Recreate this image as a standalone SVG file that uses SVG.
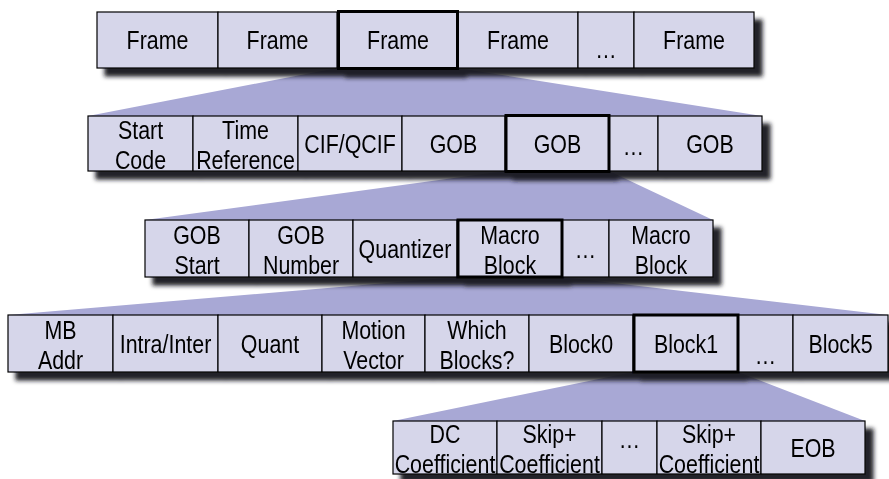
<svg xmlns="http://www.w3.org/2000/svg" width="889" height="479" viewBox="0 0 889 479">
  <style>
    .cell { fill: #d6d6ea; stroke: #000; stroke-width: 1.2; }
    .sel { fill: none; stroke: #000; stroke-width: 3; }
    .fan { fill: #a8a8d5; stroke: none; }
    text { font-family: "Liberation Sans", Arial, sans-serif; font-size: 25.5px; fill: #000; text-anchor: middle; }
  </style>
  <defs>
    <filter id="shadow" x="-5%" y="-30%" width="115%" height="170%">
      <feDropShadow dx="8" dy="8" stdDeviation="2.2" flood-color="#15151d" flood-opacity="0.95"/>
    </filter>
  </defs>
  <rect width="889" height="479" fill="#fff"/>

  <!-- expansion wedges: each selected field opens into the row below -->
  <g id="connectors">
    <polygon class="fan" points="337,68 458,68 762,116 88,116"/>
    <polygon class="fan" points="505,171 609,171 713,220 145,220"/>
    <polygon class="fan" points="457,277 562,277 888,315 8,315"/>
    <polygon class="fan" points="633,372 738,372 865,421 393,421"/>
  </g>

  <!-- Row 1: video sequence -->
  <g id="sequence" filter="url(#shadow)">
    <g id="frame1"><rect class="cell" x="97" y="12" width="121" height="56"/><text transform="translate(157.5,49) scale(0.84,1)">Frame</text></g>
    <g id="frame2"><rect class="cell" x="218" y="12" width="119" height="56"/><text transform="translate(277.5,49) scale(0.84,1)">Frame</text></g>
    <g id="frame4"><rect class="cell" x="458" y="12" width="120" height="56"/><text transform="translate(518,49) scale(0.84,1)">Frame</text></g>
    <g id="frame-more"><rect class="cell" x="578" y="12" width="56" height="56"/><text transform="translate(606,58) scale(0.84,1)">…</text></g>
    <g id="frame-last"><rect class="cell" x="634" y="12" width="120" height="56"/><text transform="translate(694,49) scale(0.84,1)">Frame</text></g>
    <g id="frame3"><rect class="cell" x="338.5" y="11.5" width="119" height="57"/><rect class="sel" x="338.5" y="11.5" width="119" height="57"/><text transform="translate(398,49) scale(0.84,1)">Frame</text></g>
  </g>

  <!-- Row 2: frame layer -->
  <g id="frame" filter="url(#shadow)">
    <g id="start-code"><rect class="cell" x="88" y="116" width="105" height="55"/><text transform="translate(140.5,139) scale(0.84,1)"><tspan x="0">Start</tspan><tspan x="0" dy="30">Code</tspan></text></g>
    <g id="time-reference"><rect class="cell" x="193" y="116" width="105" height="55"/><text transform="translate(245.5,139) scale(0.84,1)"><tspan x="0">Time</tspan><tspan x="0" dy="30">Reference</tspan></text></g>
    <g id="cif-qcif"><rect class="cell" x="298" y="116" width="104" height="55"/><text transform="translate(350,152.5) scale(0.84,1)">CIF/QCIF</text></g>
    <g id="gob1"><rect class="cell" x="402" y="116" width="103" height="55"/><text transform="translate(453.5,152.5) scale(0.84,1)">GOB</text></g>
    <g id="gob-more"><rect class="cell" x="609" y="116" width="49" height="55"/><text transform="translate(633.5,155) scale(0.84,1)">…</text></g>
    <g id="gob-last"><rect class="cell" x="658" y="116" width="104" height="55"/><text transform="translate(710,152.5) scale(0.84,1)">GOB</text></g>
    <g id="gob2"><rect class="cell" x="506" y="115.5" width="103" height="56"/><rect class="sel" x="506" y="115.5" width="103" height="56"/><text transform="translate(557.5,152.5) scale(0.84,1)">GOB</text></g>
  </g>

  <!-- Row 3: group of blocks -->
  <g id="gob" filter="url(#shadow)">
    <g id="gob-start"><rect class="cell" x="145" y="220" width="104" height="57"/><text transform="translate(197,244) scale(0.84,1)"><tspan x="0">GOB</tspan><tspan x="0" dy="30">Start</tspan></text></g>
    <g id="gob-number"><rect class="cell" x="249" y="220" width="104" height="57"/><text transform="translate(301,244) scale(0.84,1)"><tspan x="0">GOB</tspan><tspan x="0" dy="30">Number</tspan></text></g>
    <g id="quantizer"><rect class="cell" x="353" y="220" width="104" height="57"/><text transform="translate(405,257.5) scale(0.84,1)">Quantizer</text></g>
    <g id="mb-more"><rect class="cell" x="562" y="220" width="47" height="57"/><text transform="translate(585.5,258) scale(0.84,1)">…</text></g>
    <g id="mb-last"><rect class="cell" x="609" y="220" width="104" height="57"/><text transform="translate(661,244) scale(0.84,1)"><tspan x="0">Macro</tspan><tspan x="0" dy="30">Block</tspan></text></g>
    <g id="macroblock"><rect class="cell" x="458" y="220" width="104" height="57"/><rect class="sel" x="458" y="220" width="104" height="57"/><text transform="translate(510,244) scale(0.84,1)"><tspan x="0">Macro</tspan><tspan x="0" dy="30">Block</tspan></text></g>
  </g>

  <!-- Row 4: macroblock -->
  <g id="mb" filter="url(#shadow)">
    <g id="mb-addr"><rect class="cell" x="8" y="315" width="105" height="57"/><text transform="translate(60.5,339) scale(0.84,1)"><tspan x="0">MB</tspan><tspan x="0" dy="30">Addr</tspan></text></g>
    <g id="intra-inter"><rect class="cell" x="113" y="315" width="105" height="57"/><text transform="translate(165.5,352.5) scale(0.84,1)">Intra/Inter</text></g>
    <g id="quant"><rect class="cell" x="218" y="315" width="104" height="57"/><text transform="translate(270,352.5) scale(0.84,1)">Quant</text></g>
    <g id="motion-vector"><rect class="cell" x="322" y="315" width="103" height="57"/><text transform="translate(373.5,339) scale(0.84,1)"><tspan x="0">Motion</tspan><tspan x="0" dy="30">Vector</tspan></text></g>
    <g id="which-blocks"><rect class="cell" x="425" y="315" width="104" height="57"/><text transform="translate(477,339) scale(0.84,1)"><tspan x="0">Which</tspan><tspan x="0" dy="30">Blocks?</tspan></text></g>
    <g id="block0"><rect class="cell" x="529" y="315" width="104" height="57"/><text transform="translate(581,352.5) scale(0.84,1)">Block0</text></g>
    <g id="block-more"><rect class="cell" x="738" y="315" width="55" height="57"/><text transform="translate(765.5,364) scale(0.84,1)">…</text></g>
    <g id="block5"><rect class="cell" x="793" y="315" width="95" height="57"/><text transform="translate(840.5,352.5) scale(0.84,1)">Block5</text></g>
    <g id="block1"><rect class="cell" x="634" y="315" width="104" height="57"/><rect class="sel" x="634" y="315" width="104" height="57"/><text transform="translate(686,352.5) scale(0.84,1)">Block1</text></g>
  </g>

  <!-- Row 5: block -->
  <g id="block" filter="url(#shadow)">
    <g id="dc-coefficient"><rect class="cell" x="393" y="421" width="104" height="53"/><text transform="translate(445,443) scale(0.84,1)"><tspan x="0">DC</tspan><tspan x="0" dy="30">Coefficient</tspan></text></g>
    <g id="skip-coefficient1"><rect class="cell" x="497" y="421" width="105" height="53"/><text transform="translate(549.5,443) scale(0.84,1)"><tspan x="0">Skip+</tspan><tspan x="0" dy="30">Coefficient</tspan></text></g>
    <g id="coef-more"><rect class="cell" x="602" y="421" width="55" height="53"/><text transform="translate(629.5,448) scale(0.84,1)">…</text></g>
    <g id="skip-coefficient2"><rect class="cell" x="657" y="421" width="104" height="53"/><text transform="translate(709,443) scale(0.84,1)"><tspan x="0">Skip+</tspan><tspan x="0" dy="30">Coefficient</tspan></text></g>
    <g id="eob"><rect class="cell" x="761" y="421" width="104" height="53"/><text transform="translate(813,456.5) scale(0.84,1)">EOB</text></g>
  </g>
</svg>
